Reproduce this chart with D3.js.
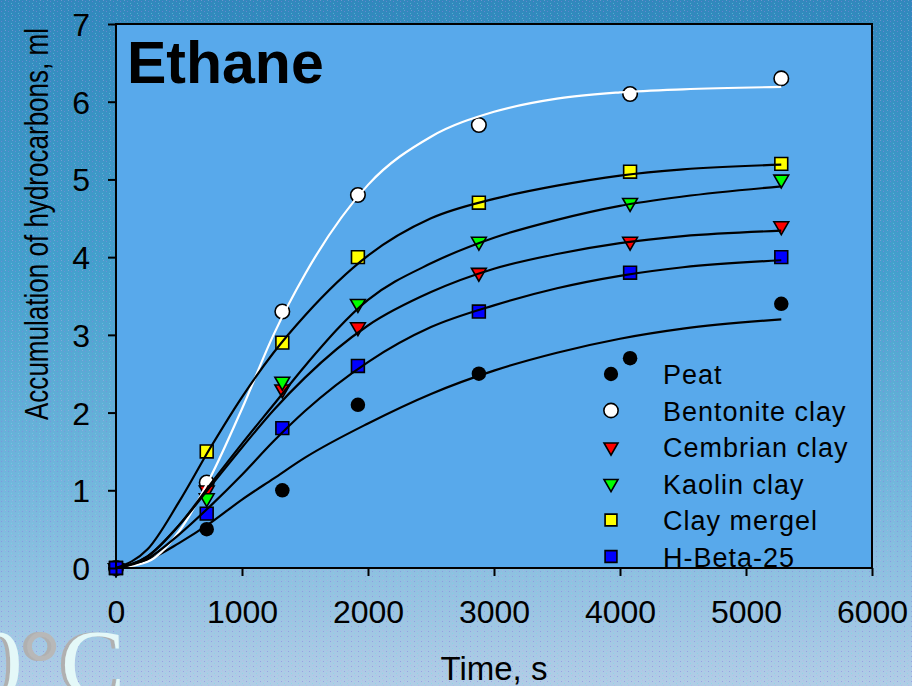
<!DOCTYPE html>
<html>
<head>
<meta charset="utf-8">
<script src="https://cdn.jsdelivr.net/npm/d3@7"></script>
<style>
  html, body { margin: 0; padding: 0; background: #4aa3cf; }
  svg { display: block; }
</style>
</head>
<body>
<div id="chart"></div>
<script>
const times = [0, 720, 1320, 1920, 2880, 4080, 5280];
const peat      = [0, 0.5, 1.0, 2.1, 2.5, 2.7, 3.4];
const bentonite = [0, 1.1, 3.3, 4.8, 5.7, 6.1, 6.3];
const cembrian  = [0, 1.0, 2.3, 3.1, 3.8, 4.2, 4.4];
const kaolin    = [0, 0.9, 2.4, 3.4, 4.2, 4.7, 5.0];
const mergel    = [0, 1.5, 2.9, 4.0, 4.7, 5.1, 5.2];
const hbeta     = [0, 0.7, 1.8, 2.6, 3.3, 3.8, 4.0];

// fitted curves, values
const fitTimes = [0, 250, 500, 750, 1000, 1250, 1500, 2000, 2500, 3000, 3500, 4000, 4500, 5280];
const peatFit      = [0, 0.10, 0.32, 0.58, 0.88, 1.15, 1.42, 1.86, 2.24, 2.54, 2.77, 2.95, 3.08, 3.20];
const bentoniteFit = [0, 0.08, 0.47, 1.17, 2.05, 3.00, 3.78, 4.93, 5.55, 5.87, 6.04, 6.12, 6.16, 6.19];
const cembrianFit  = [0, 0.15, 0.55, 1.05, 1.55, 2.03, 2.45, 3.12, 3.55, 3.85, 4.04, 4.18, 4.27, 4.34];
const kaolinFit    = [0, 0.15, 0.55, 1.08, 1.60, 2.10, 2.60, 3.45, 3.92, 4.25, 4.48, 4.66, 4.78, 4.91];
const mergelFit    = [0, 0.24, 0.85, 1.55, 2.20, 2.77, 3.25, 4.02, 4.50, 4.75, 4.92, 5.05, 5.13, 5.19];
const hbetaFit     = [0, 0.12, 0.43, 0.80, 1.20, 1.63, 2.02, 2.65, 3.10, 3.38, 3.60, 3.76, 3.87, 3.96];

const xTicks = [0, 1000, 2000, 3000, 4000, 5000, 6000];
const yTicks = [0, 1, 2, 3, 4, 5, 6, 7];

const series = [
  { name: 'Peat',           values: peat,      fit: peatFit,      shape: 'circle',   fill: '#000000', line: '#000000' },
  { name: 'Bentonite clay', values: bentonite, fit: bentoniteFit, shape: 'circle',   fill: '#ffffff', line: '#ffffff' },
  { name: 'Cembrian clay',  values: cembrian,  fit: cembrianFit,  shape: 'triangle', fill: '#ff0000', line: '#000000' },
  { name: 'Kaolin clay',    values: kaolin,    fit: kaolinFit,    shape: 'triangle', fill: '#00ff00', line: '#000000' },
  { name: 'Clay mergel',    values: mergel,    fit: mergelFit,    shape: 'square',   fill: '#ffff00', line: '#000000' },
  { name: 'H-Beta-25',      values: hbeta,     fit: hbetaFit,     shape: 'square',   fill: '#0000ff', line: '#000000' }
];

const width = 912, height = 686;
const plot = { left: 116, right: 872, top: 24, bottom: 568 };
const sans = '"Liberation Sans", Arial, sans-serif';

const svg = d3.select('#chart')
  .append('svg')
  .attr('width', width)
  .attr('height', height);

const defs = svg.append('defs');

const grad = defs.append('linearGradient')
  .attr('id', 'bg')
  .attr('x1', 0).attr('y1', 0).attr('x2', 0).attr('y2', 1);
[['0', '#3188bc'], ['0.4', '#45a0cd'], ['0.7', '#72b6dc'], ['1', '#b2cde6']].forEach(s => {
  grad.append('stop').attr('offset', s[0]).attr('stop-color', s[1]);
});

// speckle texture of the slide background
const pat = defs.append('pattern')
  .attr('id', 'speck')
  .attr('width', 7).attr('height', 5)
  .attr('patternUnits', 'userSpaceOnUse');
pat.append('rect').attr('x', 1).attr('y', 1).attr('width', 1).attr('height', 1).attr('fill', '#8a7ee0').attr('opacity', 0.55);
pat.append('rect').attr('x', 4).attr('y', 3).attr('width', 1).attr('height', 1).attr('fill', '#6fe0e8').attr('opacity', 0.45);
pat.append('rect').attr('x', 5).attr('y', 0).attr('width', 1).attr('height', 1).attr('fill', '#c0a8e8').attr('opacity', 0.4);

// grey shadow to the left of the "0°C" letters
const shadow = defs.append('filter').attr('id', 'shade').attr('x', '-20%').attr('width', '140%');
shadow.append('feOffset').attr('in', 'SourceAlpha').attr('dx', -4).attr('dy', 0).attr('result', 'off');
shadow.append('feFlood').attr('flood-color', '#b0b0b0');
shadow.append('feComposite').attr('in2', 'off').attr('operator', 'in').attr('result', 'grey');
const merge = shadow.append('feMerge');
merge.append('feMergeNode').attr('in', 'grey');
merge.append('feMergeNode').attr('in', 'SourceGraphic');

svg.append('rect').attr('width', width).attr('height', height).attr('fill', 'url(#bg)');
svg.append('rect').attr('width', width).attr('height', height).attr('fill', 'url(#speck)');

// "0°C" slide decoration at the bottom left
const deco = svg.append('text')
  .attr('x', 125).attr('y', 696)
  .attr('text-anchor', 'end')
  .attr('filter', 'url(#shade)')
  .style('font-family', '"Liberation Serif", "Times New Roman", serif')
  .style('font-size', '96px')
  .attr('fill', '#e4f8f8');
deco.append('tspan').text('0');
deco.append('tspan').attr('fill', '#b8b8b8').text('°');
deco.append('tspan').text('C');

const x = d3.scaleLinear().domain([0, 6000]).range([plot.left, plot.right]);
const y = d3.scaleLinear().domain([0, 7]).range([plot.bottom, plot.top]);

svg.append('rect')
  .attr('x', plot.left).attr('y', plot.top)
  .attr('width', plot.right - plot.left).attr('height', plot.bottom - plot.top)
  .attr('fill', '#58a9eb');

// markers first, fitted curves are drawn over them
const symbolFor = (shape) => {
  if (shape === 'triangle') return d3.symbol(d3.symbolTriangle, 95)();
  if (shape === 'square') return d3.symbol(d3.symbolSquare, 165)();
  return d3.symbol(d3.symbolCircle, 165)();
};

const markers = svg.append('g');
series.forEach(s => {
  markers.selectAll(null)
    .data(times.map((t, i) => [t, s.values[i]]))
    .join('path')
    .attr('d', symbolFor(s.shape))
    .attr('transform', d => `translate(${x(d[0])},${y(d[1])})` + (s.shape === 'triangle' ? ' rotate(180)' : ''))
    .attr('fill', s.fill)
    .attr('stroke', '#000')
    .attr('stroke-width', s.fill === '#000000' ? 0 : 1.6);
});

const line = d3.line()
  .x(d => x(d[0]))
  .y(d => y(d[1]))
  .curve(d3.curveMonotoneX);

svg.append('g')
  .selectAll('path')
  .data(series)
  .join('path')
  .attr('d', s => line(fitTimes.map((t, i) => [t, s.fit[i]])))
  .attr('fill', 'none')
  .attr('stroke', s => s.line)
  .attr('stroke-width', 2.2);

// frame
svg.append('rect')
  .attr('x', plot.left).attr('y', plot.top)
  .attr('width', plot.right - plot.left).attr('height', plot.bottom - plot.top)
  .attr('fill', 'none')
  .attr('stroke', '#000')
  .attr('stroke-width', 2);

const xAxis = svg.append('g')
  .attr('transform', `translate(0,${plot.bottom})`)
  .call(d3.axisBottom(x).tickValues(xTicks).tickFormat(d3.format('d')).tickSize(8).tickPadding(24));

const yAxis = svg.append('g')
  .attr('transform', `translate(${plot.left},0)`)
  .call(d3.axisLeft(y).tickValues(yTicks).tickFormat(d3.format('d')).tickSize(8).tickPadding(18));

[xAxis, yAxis].forEach(a => {
  a.select('.domain').remove();
  a.selectAll('line').attr('stroke', '#000').attr('stroke-width', 2);
  a.selectAll('text')
    .attr('fill', '#000')
    .style('font-family', sans)
    .style('font-size', '32px');
});
yAxis.selectAll('text').attr('dy', '0.36em');

// titles
svg.append('text')
  .attr('x', 127).attr('y', 83)
  .style('font-family', sans)
  .style('font-size', '59px')
  .style('font-weight', 'bold')
  .attr('fill', '#000')
  .text('Ethane');

svg.append('text')
  .attr('x', (plot.left + plot.right) / 2).attr('y', 680)
  .attr('text-anchor', 'middle')
  .style('font-family', sans)
  .style('font-size', '33px')
  .attr('fill', '#000')
  .text('Time, s');

svg.append('text')
  .attr('transform', 'translate(48,420) rotate(-90)')
  .attr('text-anchor', 'start')
  .attr('textLength', 392)
  .attr('lengthAdjust', 'spacingAndGlyphs')
  .style('font-family', sans)
  .style('font-size', '33px')
  .attr('fill', '#000')
  .text('Accumulation of hydrocarbons, ml');

// legend
const legend = svg.append('g').attr('transform', 'translate(611,374)');
const rows = legend.selectAll('g')
  .data(series)
  .join('g')
  .attr('transform', (d, i) => `translate(0,${i * 36.5})`);

rows.append('path')
  .attr('d', d => d.shape === 'triangle' ? d3.symbol(d3.symbolTriangle, 85)()
    : d.shape === 'square' ? d3.symbol(d3.symbolSquare, 140)() : d3.symbol(d3.symbolCircle, 160)())
  .attr('transform', d => d.shape === 'triangle' ? 'rotate(180)' : null)
  .attr('fill', d => d.fill)
  .attr('stroke', '#000')
  .attr('stroke-width', d => d.fill === '#000000' ? 0 : 1.6);

rows.append('text')
  .attr('x', 52).attr('y', 10)
  .style('font-family', sans)
  .style('font-size', '27px')
  .style('letter-spacing', '1px')
  .attr('fill', '#000')
  .text(d => d.name);
</script>
</body>
</html>
